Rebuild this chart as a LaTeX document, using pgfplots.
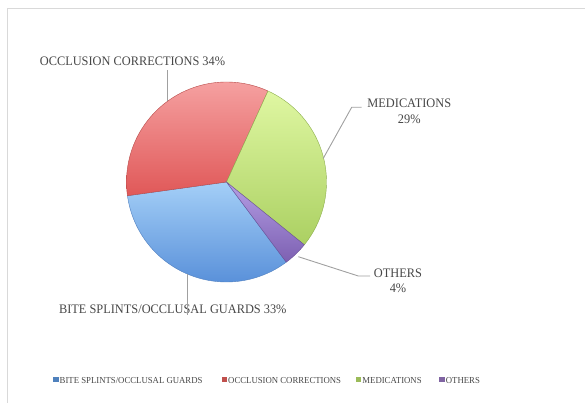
\documentclass[border=0pt]{standalone}
\usepackage{pgfplots}
\usepackage{pgfplotstable}
\pgfplotsset{compat=1.18}
\usepackage{fontspec}
\setmainfont{Liberation Serif}[FakeStretch=0.95]

\definecolor{txt}{HTML}{474747}
\definecolor{lead}{HTML}{A0A0A0}
\definecolor{frame}{HTML}{D9D9D9}
\definecolor{blueT}{HTML}{A4CFF7}
\definecolor{blueB}{HTML}{5A91DA}
\definecolor{blueD}{HTML}{4F7FBF}
\definecolor{redT}{HTML}{F5A0A0}
\definecolor{redB}{HTML}{E05858}
\definecolor{redD}{HTML}{B84A48}
\definecolor{greenT}{HTML}{DFF7A2}
\definecolor{greenB}{HTML}{ABD062}
\definecolor{greenD}{HTML}{8CAE4C}
\definecolor{purT}{HTML}{B49EE4}
\definecolor{purB}{HTML}{7D60B2}
\definecolor{purD}{HTML}{6A5096}
\definecolor{legBlue}{HTML}{4F81BD}
\definecolor{legRed}{HTML}{C0504D}
\definecolor{legGreen}{HTML}{9BBB59}
\definecolor{legPur}{HTML}{8064A2}

\pgfplotstableread{
name value
bite 33
occl 34
med 29
oth 4
}\piedata

\begin{document}
\begin{tikzpicture}
\pgfplotstablegetelem{0}{value}\of\piedata \let\vA\pgfplotsretval
\pgfplotstablegetelem{1}{value}\of\piedata \let\vB\pgfplotsretval
\pgfplotstablegetelem{2}{value}\of\piedata \let\vC\pgfplotsretval
\pgfplotstablegetelem{3}{value}\of\piedata \let\vD\pgfplotsretval
\pgfmathsetmacro{\aS}{-53.3}
\pgfmathsetmacro{\aA}{\aS-3.6*\vA}
\pgfmathsetmacro{\aB}{\aA-3.6*\vB}
\pgfmathsetmacro{\aC}{\aB-3.6*\vC}
\pgfmathsetmacro{\aD}{\aC-3.6*\vD}
\begin{axis}[hide axis, scale only axis, width=585bp, height=403bp,
  xmin=0, xmax=585, ymin=0, ymax=403, clip=false, at={(0,0)}, anchor=south west]
% frame
\draw[frame, line width=1.2pt] (7.5,-5) -- (7.5,394.5) -- (590,394.5);
% slices
\addplot[draw=blueD, line width=0.4pt, top color=blueT, bottom color=blueB,
  domain=\aA:\aS, samples=80, variable=\t]
  ({226.5+100*cos(\t)},{221+100*sin(\t)}) -- (226.5,221) -- cycle;
\addplot[draw=redD, line width=0.4pt, top color=redT, bottom color=redB,
  domain=\aB:\aA, samples=80, variable=\t]
  ({226.5+100*cos(\t)},{221+100*sin(\t)}) -- (226.5,221) -- cycle;
\addplot[draw=greenD, line width=0.4pt, top color=greenT, bottom color=greenB,
  domain=\aC:\aB, samples=80, variable=\t]
  ({226.5+100*cos(\t)},{221+100*sin(\t)}) -- (226.5,221) -- cycle;
\addplot[draw=purD, line width=0.4pt, top color=purT, bottom color=purB,
  domain=\aD:\aC, samples=20, variable=\t]
  ({226.5+100*cos(\t)},{221+100*sin(\t)}) -- (226.5,221) -- cycle;
% leader lines
\draw[lead, line width=0.9pt] (167.7,333) -- (167.7,302);
\draw[lead, line width=0.9pt] (323.3,244.7) -- (351.7,295.7) -- (361.7,295.7);
\draw[lead, line width=0.9pt] (298.3,146.3) -- (358.3,127) -- (370,127);
% labels
\node[txt, font=\fontsize{13bp}{15.5bp}\selectfont, inner sep=0] at (132.5,341.3) {OCCLUSION CORRECTIONS 34\%};
\node[txt, font=\fontsize{13bp}{15.5bp}\selectfont, inner sep=0, align=center] at (409.3,291.7) {MEDICATIONS\\29\%};
\node[txt, font=\fontsize{13bp}{15.5bp}\selectfont, inner sep=0, align=center] at (398,122.2) {OTHERS\\4\%};
\node[txt, font=\fontsize{13bp}{15.5bp}\selectfont, inner sep=0] at (172.8,93.7) {BITE SPLINTS/OCCLUSAL GUARDS 33\%};
\draw[lead, line width=0.9pt] (187.2,129) -- (187.2,88);
% legend
\fill[legBlue] (53.3,20.5) rectangle (58.5,25.7);
\node[txt, font=\fontsize{9.2bp}{11bp}\selectfont, inner sep=0, anchor=west] at (59.5,23) {BITE SPLINTS/OCCLUSAL GUARDS};
\fill[legRed] (221.7,20.5) rectangle (226.9,25.7);
\node[txt, font=\fontsize{9.2bp}{11bp}\selectfont, inner sep=0, anchor=west] at (228,23) {OCCLUSION CORRECTIONS};
\fill[legGreen] (356,20.5) rectangle (361.2,25.7);
\node[txt, font=\fontsize{9.2bp}{11bp}\selectfont, inner sep=0, anchor=west] at (362.2,23) {MEDICATIONS};
\fill[legPur] (439.3,20.5) rectangle (444.5,25.7);
\node[txt, font=\fontsize{9.2bp}{11bp}\selectfont, inner sep=0, anchor=west] at (445.7,23) {OTHERS};
\end{axis}
\pgfresetboundingbox
\path[use as bounding box] (0,0) rectangle (585bp,403bp);
\end{tikzpicture}
\end{document}
